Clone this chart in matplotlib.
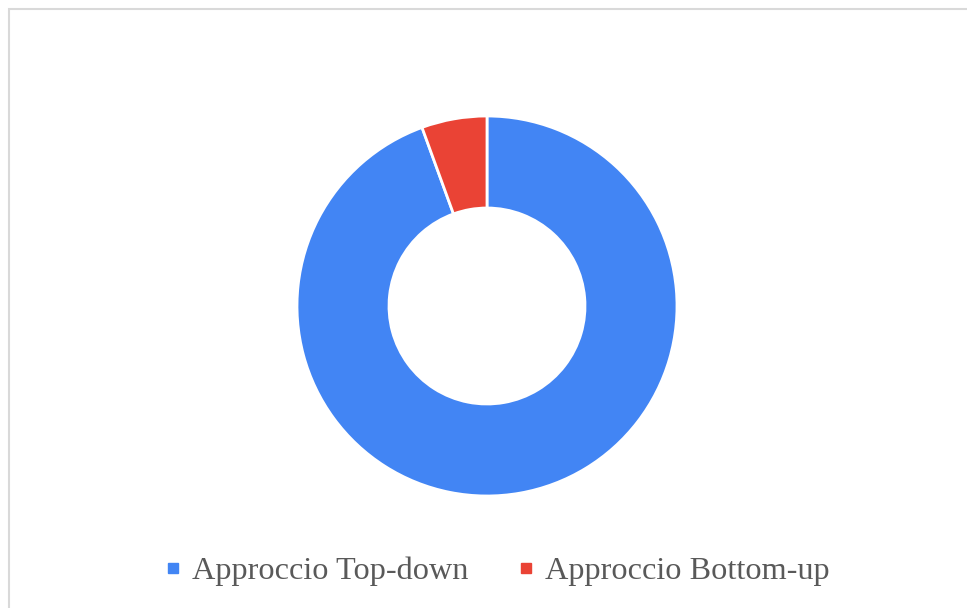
import matplotlib.pyplot as plt
from matplotlib.lines import Line2D
from matplotlib.patches import Rectangle

# data
labels = ["Approccio Top-down", "Approccio Bottom-up"]
values = [17, 1]
colors = ["#4285F4", "#EA4335"]

W, H = 967, 608
fig = plt.figure(figsize=(W / 100, H / 100), dpi=100)
ax = fig.add_axes([0, 0, 1, 1])

# donut
ax.pie(values, colors=colors, startangle=90, counterclock=False,
       center=(487, 302), radius=190,
       wedgeprops=dict(width=92, edgecolor="white", linewidth=2))

ax.set_xlim(0, W)
ax.set_ylim(0, H)
ax.set_aspect("equal")
ax.axis("off")

# chart area border
ax.add_patch(Rectangle((8.5, -20), W + 20, H - 8.5 + 20, fill=False,
                       edgecolor="#d9d9d9", linewidth=1.5))

# legend
handles = [Line2D([], [], linestyle="none", marker="s", markersize=7,
                  markerfacecolor=c, markeredgecolor=c) for c in colors]
fig.legend(handles, labels, loc="center", bbox_to_anchor=(0.5155, 0.06),
           ncol=2, frameon=False, handlelength=0.35, handletextpad=0.42,
           columnspacing=1.6,
           prop=dict(family="Liberation Serif", size=23.2),
           labelcolor="#595959")

fig.savefig("out.png", dpi=100)
